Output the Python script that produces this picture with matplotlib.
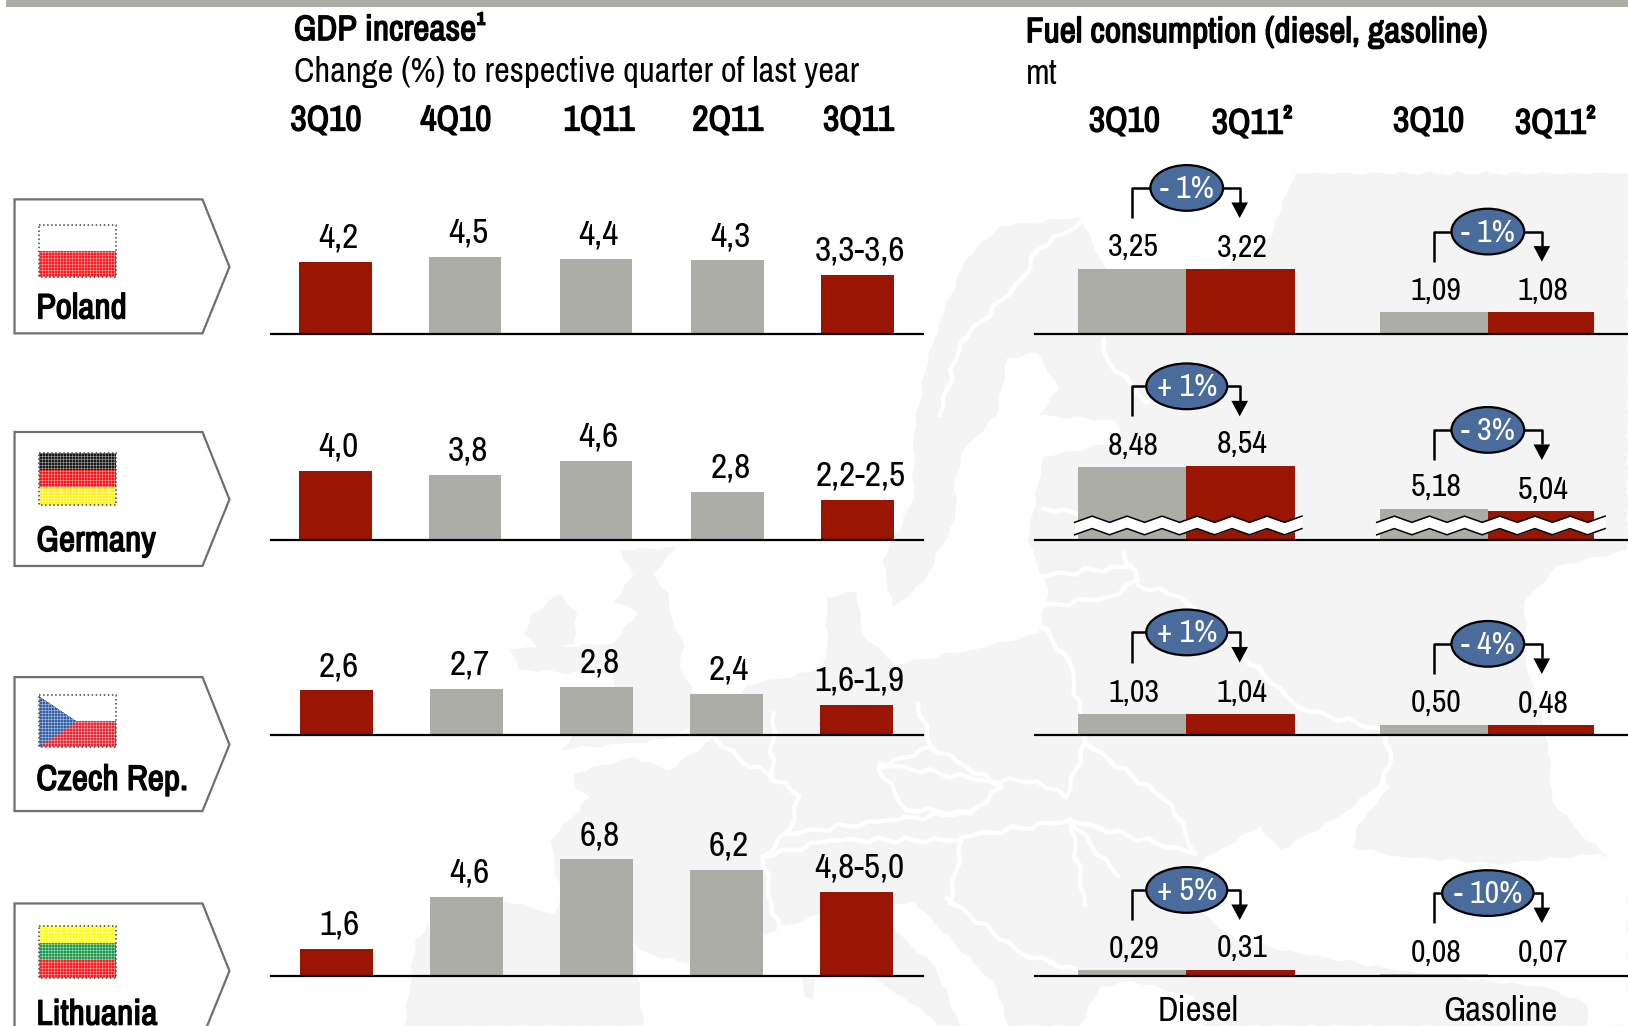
import numpy as np
from matplotlib import pyplot as plt
from matplotlib import patheffects as pe
from matplotlib.patches import Ellipse, Polygon, Rectangle

plt.rcParams['font.family'] = ['Archivo Narrow', 'Liberation Sans', 'DejaVu Sans']

GREY = '#ADADA7'
RED = '#9B1503'
BLUE = '#4A6C9C'
LAND = '#F4F4F4'

countries = ['Poland', 'Germany', 'Czech Rep.', 'Lithuania']
quarters = ['3Q10', '4Q10', '1Q11', '2Q11', '3Q11']
fuel_quarters = ['3Q10', '3Q11²', '3Q10', '3Q11²']

gdp_poland = [4.2, 4.5, 4.4, 4.3]
gdp_germany = [4.0, 3.8, 4.6, 2.8]
gdp_czech = [2.6, 2.7, 2.8, 2.4]
gdp_lithuania = [1.6, 4.6, 6.8, 6.2]
gdp_3q11_low = [3.3, 2.2, 1.6, 4.8]
gdp_3q11_high = [3.6, 2.5, 1.9, 5.0]

diesel_3q10 = [3.25, 8.48, 1.03, 0.29]
diesel_3q11 = [3.22, 8.54, 1.04, 0.31]
gasoline_3q10 = [1.09, 5.18, 0.50, 0.08]
gasoline_3q11 = [1.08, 5.04, 0.48, 0.07]
diesel_change = ['- 1%', '+ 1%', '+ 1%', '+ 5%']
gasoline_change = ['- 1%', '- 3%', '- 4%', '- 10%']

# hidden part of the broken Germany bars
diesel_cut = [0, 4.87, 0, 0]
gasoline_cut = [0, 3.63, 0, 0]

# layout, all in pixels of the 1568x988 view
W, H = 1568, 988
baselines = [321, 519, 707, 939]
box_tops = [192, 416, 652, 870]
flag_tops = [217, 436, 669, 892]
name_y = [297, 521, 751, 977]
diesel_call_y = [181, 372, 609, 857]
gasoline_call_y = [223, 414, 620, 860]
gdp_x_upper = [323, 448, 574, 701, 826]
gdp_x_lower = [324, 449.5, 574.5, 699.5, 825]
GDP_SCALE = 16.5
FUEL_SCALE = 19.4

# the narrow face has no bold cut, so bold text gets a thin outline
BOLD = dict(path_effects=[pe.withStroke(linewidth=1.0, foreground='black')])

fig = plt.figure(figsize=(16.28, 10.26), dpi=100)

bg = fig.add_axes([0, 0, 1, 1], zorder=0)
bg.set_xlim(0, W)
bg.set_ylim(H, 0)
bg.axis('off')


def wiggle(points, amp=2.0):
    # roughen a hand traced outline so it does not look ruled
    out = []
    pts = np.array(points, dtype=float)
    for a, b in zip(pts[:-1], pts[1:]):
        d = b - a
        n = max(int(np.hypot(*d) / 9), 1)
        normal = np.array([-d[1], d[0]]) / (np.hypot(*d) + 1e-9)
        for k in range(n):
            t = k / n
            out.append(a + d * t + normal * amp * np.sin(k * 2.1) * np.sin(np.pi * t))
    out.append(pts[-1])
    return np.array(out)


land = [(963, 218), (1040, 209), (1060, 250), (1100, 300), (1190, 250), (1225, 228), (1229, 212),
        (1241, 183), (1248, 167), (1568, 167), (1568, 988), (390, 988), (395, 950), (400, 905),
        (420, 885), (484, 867), (534, 880), (540, 860), (530, 810), (568, 767), (553, 758),
        (553, 745), (610, 729), (644, 742), (688, 710), (720, 660), (790, 645), (797, 620),
        (796, 575), (825, 570), (830, 610), (862, 640), (940, 625), (1000, 610), (1010, 570),
        (990, 520), (1005, 440), (1080, 425), (1075, 405), (1000, 400), (1020, 375), (1000, 340),
        (970, 345), (960, 400), (930, 430), (920, 460), (920, 500), (890, 560), (860, 585),
        (850, 540), (880, 480), (880, 420), (890, 360), (905, 310), (930, 250), (963, 218)]
britain = [(598, 530), (652, 527), (629, 552), (644, 572), (648, 597), (659, 623), (655, 642),
           (667, 661), (671, 700), (640, 712), (600, 716), (540, 722), (560, 700), (600, 680),
           (590, 650), (500, 645), (490, 625), (590, 620), (615, 590), (590, 580), (610, 555),
           (598, 530)]
ireland = [(511, 592), (540, 572), (556, 590), (552, 620), (520, 629), (505, 610), (511, 592)]
black_sea = [(1148, 835), (1179, 816), (1214, 796), (1233, 819), (1295, 783), (1333, 751),
             (1339, 758), (1310, 790), (1302, 816), (1349, 825), (1445, 832), (1541, 822),
             (1551, 827), (1568, 830), (1568, 988), (1528, 988), (1528, 967), (1491, 951),
             (1364, 937), (1252, 918), (1190, 905), (1160, 880), (1148, 835)]
caspian = [(1568, 530), (1500, 545), (1468, 580), (1470, 640), (1491, 716), (1495, 771),
           (1522, 803), (1551, 827), (1568, 830)]
med = [(620, 988), (610, 908), (625, 918), (659, 928), (700, 915), (735, 900), (790, 880),
       (827, 934), (870, 960), (899, 982), (905, 988)]
adriatic = [(858, 870), (880, 868), (960, 950), (970, 988), (925, 988), (900, 930), (860, 895)]
aegean = [(1040, 988), (1060, 950), (1090, 945), (1150, 960), (1160, 988)]
corsica = [(773, 941), (785, 943), (783, 963), (775, 960)]

for shape in [land, britain, ireland]:
    bg.add_patch(Polygon(wiggle(shape), fc=LAND, ec='none'))
for sea in [black_sea, caspian, med, adriatic, aegean]:
    bg.add_patch(Polygon(wiggle(sea), fc='white', ec='none'))
bg.add_patch(Polygon(corsica, fc=LAND, ec='none'))

borders = [
    [(688, 710), (713, 732), (739, 745), (770, 767), (760, 800), (735, 825), (743, 870), (751, 896)],
    [(760, 803), (854, 790), (926, 783)],
    [(745, 687), (743, 751)],
    [(884, 678), (896, 719), (846, 740), (873, 780)],
    [(896, 719), (930, 738), (964, 758), (934, 783), (873, 780)],
    [(800, 809), (926, 809), (915, 870)],
    [(735, 825), (800, 809)],
    [(848, 736), (953, 752), (999, 752), (1027, 768), (1045, 715), (1031, 639), (990, 586)],
    [(990, 586), (1068, 575), (1096, 559), (1082, 532)],
    [(1096, 564), (1137, 575), (1252, 682), (1335, 704), (1339, 736), (1310, 790)],
    [(1045, 715), (1128, 774), (1151, 822)],
    [(1031, 790), (1151, 822)],
    [(1031, 790), (1077, 844)],
    [(926, 806), (1031, 790), (1045, 871)],
    [(912, 865), (985, 919), (1040, 935)],
    [(964, 758), (953, 752)],
    [(985, 268), (1000, 240), (1040, 215)],
    [(1063, 327), (1068, 349), (1105, 387)],
    [(1005, 490), (1075, 500)],
    [(1000, 555), (1090, 545)],
    [(905, 400), (925, 330), (985, 268)],
]
for line in borders:
    path = wiggle(line, amp=3.0)
    bg.plot(path[:, 0], path[:, 1], color='white', lw=3.2, solid_joinstyle='round')


def row_axes(x0, x1, base, scale):
    ax = fig.add_axes([x0 / W, 1 - base / H, (x1 - x0) / W, 150 / H], zorder=1)
    ax.patch.set_visible(False)
    ax.set_xlim(x0, x1)
    ax.set_ylim(0, 150 / scale)
    for side in ['top', 'left', 'right']:
        ax.spines[side].set_visible(False)
    ax.spines['bottom'].set_linewidth(1.6)
    ax.set_xticks([])
    ax.set_yticks([])
    return ax


def put_label(ax, x, y, text, size, lift):
    ax.annotate(text, (x, y), xytext=(2, lift), textcoords='offset points', ha='center',
                va='center', fontsize=size, annotation_clip=False)


# GDP bars
gdp_rows = [gdp_poland, gdp_germany, gdp_czech, gdp_lithuania]
for i, vals in enumerate(gdp_rows):
    ax = row_axes(261, 889, baselines[i] + 0.8, GDP_SCALE)
    xs = gdp_x_upper if i < 2 else gdp_x_lower
    mid = (gdp_3q11_low[i] + gdp_3q11_high[i]) / 2
    heights = vals + [mid]
    colors = [RED, GREY, GREY, GREY, RED]
    ax.bar(xs, heights, width=70, color=colors)
    texts = [f'{v:.1f}'.replace('.', ',') for v in vals]
    texts.append(f'{gdp_3q11_low[i]:.1f}-{gdp_3q11_high[i]:.1f}'.replace('.', ','))
    for k in range(5):
        put_label(ax, xs[k], heights[k], texts[k], 25.5, 17.5)

# fuel bars
fuel_x = [1090.2, 1194.7, 1381.2, 1484.2]
fuel_w = [104.5, 104.5, 104, 102]
for i in range(4):
    ax = row_axes(997, 1568, baselines[i] + 0.8, FUEL_SCALE)
    vals = [diesel_3q10[i], diesel_3q11[i], gasoline_3q10[i], gasoline_3q11[i]]
    cuts = [diesel_cut[i], diesel_cut[i], gasoline_cut[i], gasoline_cut[i]]
    heights = [v - c for v, c in zip(vals, cuts)]
    ax.bar(fuel_x, heights, width=fuel_w, color=[GREY, RED, GREY, RED])
    for k in range(4):
        put_label(ax, fuel_x[k] - 1, heights[k], f'{vals[k]:.2f}'.replace('.', ','), 23, 15.5)

top = fig.add_axes([0, 0, 1, 1], zorder=2)
top.patch.set_visible(False)
top.axis('off')

# top band
top.add_patch(Rectangle((6, 0), W, 7, fc=GREY, ec='none'))


def callout(x_left, x_right, xc, y, text, width):
    kw = dict(color='black', lw=1.8, solid_capstyle='butt')
    top.plot([x_left, x_left, xc], [y + 29, y, y], **kw)
    top.plot([xc, x_right, x_right], [y, y, y + 14], **kw)
    top.add_patch(Polygon([(x_right - 8, y + 14), (x_right + 8, y + 14), (x_right, y + 29)], fc='black', ec='none'))
    top.add_patch(Ellipse((xc, y), width, 44, fc=BLUE, ec='black', lw=1.6, zorder=3))
    top.text(xc, y + 1, text, color='white', ha='center', va='center', fontsize=23, zorder=4)


for i in range(4):
    w = 78 if diesel_change[i].startswith('+') else 70
    callout(1090, 1194, 1143, diesel_call_y[i], diesel_change[i], w)
    w = 88 if gasoline_change[i] == '- 10%' else 70
    callout(1381, 1485, 1433, gasoline_call_y[i], gasoline_change[i], w)


# axis break on the Germany fuel bars
def zigzag(x0, x1):
    xs = np.linspace(x0, x1, 14)
    ys = np.where(np.arange(len(xs)) % 2 == 0, 3.0, -3.0)
    return xs, ys


for x0, x1 in [(1035, 1254), (1326, 1546)]:
    xs, ys = zigzag(x0, x1)
    top.fill_between(xs, 500 + ys, 512 + ys, color='white', lw=0)
    top.plot(xs, 500 + ys, color='black', lw=1.1)
    top.plot(xs, 512 + ys, color='black', lw=1.1)

# country tags
for i, name in enumerate(countries):
    t = box_tops[i]
    tag = [(14, t), (195, t), (221, t + 65), (195, t + 129), (14, t + 129)]
    top.add_patch(Polygon(tag, fc='white', ec='#6E7070', lw=1.6))
    top.text(35, name_y[i], name, fontsize=25.5, va='center', ha='left', **BOLD)


def flag_image(stripes, triangle=None):
    rows, cols = 52, 77
    img = np.zeros((rows, cols, 3))
    n = len(stripes)
    for k, c in enumerate(stripes):
        img[k * rows // n:(k + 1) * rows // n] = c
    if triangle is not None:
        for r in range(rows):
            reach = cols * 0.5 * (1 - abs(r - rows / 2) / (rows / 2))
            img[r, :int(reach)] = triangle
    # woven look of the little flags
    img[::3, :] = img[::3, :] * 0.65 + 0.35
    img[:, ::3] = img[:, ::3] * 0.65 + 0.35
    return img


flag_white = (1, 1, 1)
flag_red = (1, 0.1, 0.12)
flags = [
    flag_image([flag_white, flag_red]),
    flag_image([(0.1, 0.1, 0.1), (0.95, 0.08, 0.08), (1, 0.95, 0.1)]),
    flag_image([flag_white, (0.9, 0.15, 0.2)], triangle=(0.2, 0.38, 0.65)),
    flag_image([(1, 1, 0.1), (0.1, 0.6, 0.3), flag_red]),
]
for i, img in enumerate(flags):
    t = flag_tops[i]
    top.imshow(img, extent=(38, 112, t + 50, t), aspect='auto', interpolation='nearest', zorder=3)
    top.add_patch(Rectangle((38, t), 74, 50, fc='none', ec='#444444', lw=1.1, ls=':', zorder=4))

top.set_xlim(0, W)
top.set_ylim(H, 0)

# headings
top.text(283, 29, 'GDP increase¹', fontsize=25.5, va='center', **BOLD)
top.text(283, 69, 'Change (%) to respective quarter of last year', fontsize=24.8, va='center')
for x, q in zip([314, 439, 577, 701, 827], quarters):
    top.text(x, 116, q, fontsize=25.5, ha='center', va='center', **BOLD)
top.text(988, 31, 'Fuel consumption (diesel, gasoline)', fontsize=25.5, va='center', **BOLD)
top.text(988, 71, 'mt', fontsize=25, va='center')
for x, y, q in zip([1083, 1206, 1376, 1498], [117, 119, 117, 119], fuel_quarters):
    top.text(x, y, q, fontsize=25.5, ha='center', va='center', **BOLD)
top.text(1154, 974, 'Diesel', fontsize=25, ha='center', va='center')
top.text(1445, 974, 'Gasoline', fontsize=25, ha='center', va='center')

fig.savefig('out.png', dpi=100)
